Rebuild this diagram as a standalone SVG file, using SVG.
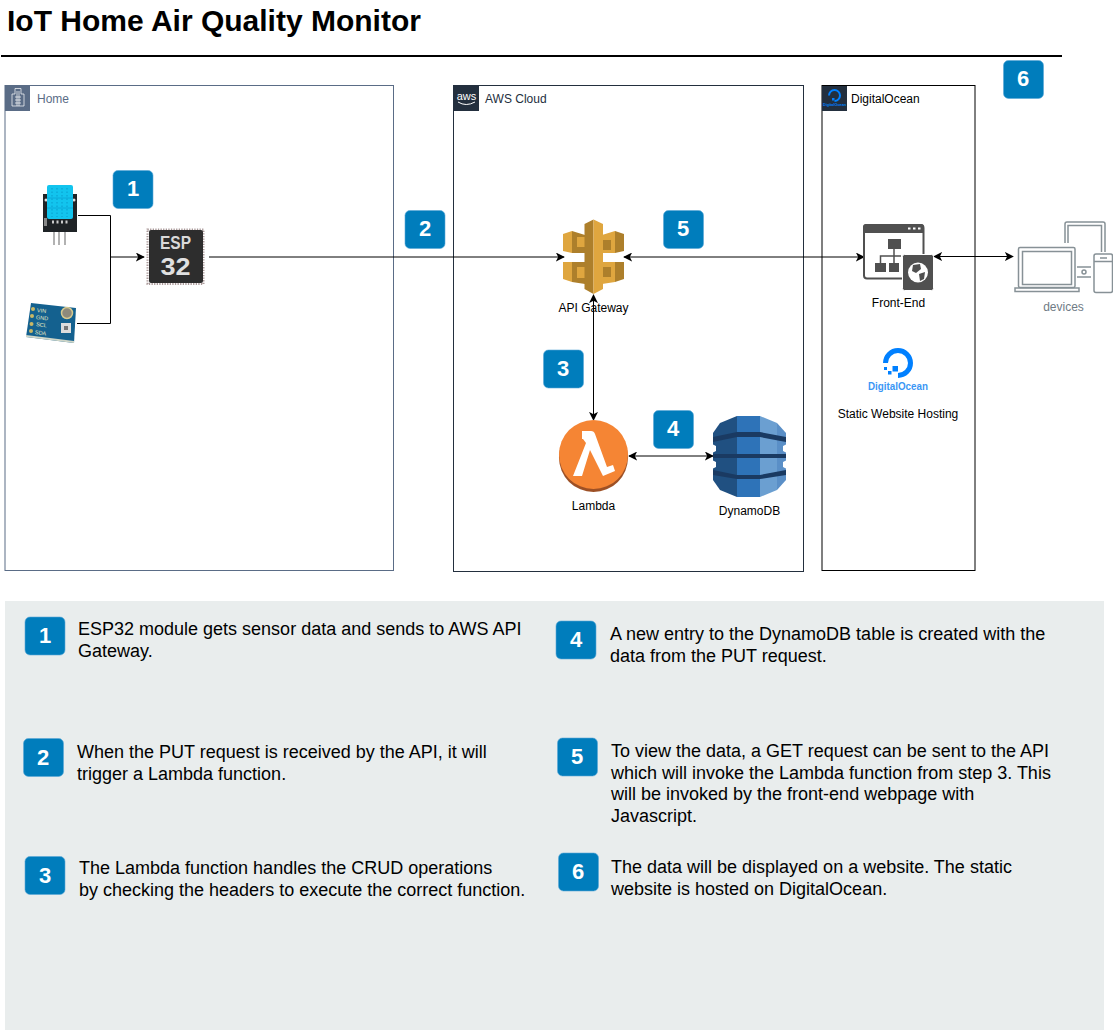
<svg xmlns="http://www.w3.org/2000/svg" width="1113" height="1030" viewBox="0 0 1113 1030">
<style>
text{font-family:"Liberation Sans",Arial,sans-serif}
.lb{font-size:12px;fill:#000;text-anchor:middle}
.gl{font-size:12px}
.d{font-size:18px;fill:#000}
.bn{font-size:22px;font-weight:bold;fill:#fff;text-anchor:middle}
.bg{fill:#007dbc;stroke:#5aa7d6;stroke-width:.6}
.c{fill:none;stroke:#000;stroke-width:1}
.dv{fill:none;stroke:#879196;stroke-width:1.500}
.pin{font-size:5.500px;fill:#e8e8c0}
.pad{fill:#c9b765}
</style>
<defs>
<marker id="a" viewBox="0 0 10 10" refX="9" refY="5" markerWidth="9" markerHeight="9" orient="auto-start-reverse" markerUnits="userSpaceOnUse"><path d="M0 0L10 5L0 10L2.500 5Z" fill="#000"/></marker>
<symbol id="badge" viewBox="0 0 40 38" overflow="visible"><rect class="bg" x="0" y="0" width="40" height="38" rx="5"/></symbol>
</defs>
<rect width="1113" height="1030" fill="#fff"/>
<g id="title">
<text x="7" y="31" font-size="30" font-weight="bold" fill="#000">IoT Home Air Quality Monitor</text>
<path d="M1 56H1062" stroke="#000" stroke-width="2" fill="none"/>
</g>
<g id="group-home">
<rect x="5" y="85.500" width="388.500" height="485" fill="#fff" stroke="#5a6c86"/>
<rect x="5" y="86" width="25" height="25" fill="#5a6c86"/>
<path d="M12 106V94H15V88.500H21V94H24V106ZM15 97H21M15 100H21M15 103H21M17 91V106M19 91V106" fill="none" stroke="#fff" stroke-width=".7"/>
<text class="gl" x="37" y="103" fill="#5a6c86">Home</text>
</g>
<g id="group-aws">
<rect x="453.500" y="85.500" width="350" height="486" fill="#fff" stroke="#232f3e"/>
<rect x="454" y="86" width="25" height="25" fill="#232f3e"/>
<text x="466.500" y="100" font-size="11" fill="#fff" text-anchor="middle">aws</text>
<path d="M458 102Q466 107 475 102" fill="none" stroke="#fff" stroke-width="1"/>
<text class="gl" x="485" y="103" fill="#232f3e">AWS Cloud</text>
</g>
<g id="group-do">
<rect x="822" y="85.500" width="153" height="485" fill="#fff" stroke="#000"/>
<rect x="822" y="86" width="25" height="25" fill="#232f3e"/>
<path d="M834.500 101A5.500 5.500 0 1 0 829 95.500" fill="none" stroke="#0080ff" stroke-width="2"/>
<rect x="832" y="98" width="2.500" height="2.500" fill="#0080ff"/>
<text x="834.500" y="106" font-size="3.800" font-weight="bold" fill="#0080ff" text-anchor="middle">DigitalOcean</text>
<text class="gl" x="851" y="103" fill="#000">DigitalOcean</text>
</g>
<g id="connectors">
<path class="c" d="M78 215.500H110.500V323.500H77"/>
<path class="c" d="M110 257H144" marker-end="url(#a)"/>
<path class="c" d="M209 257H564" marker-end="url(#a)"/>
<path class="c" d="M624 257H864" marker-start="url(#a)" marker-end="url(#a)"/>
<path class="c" d="M934 256.500H1013" marker-start="url(#a)" marker-end="url(#a)"/>
<path class="c" d="M593.500 295V420" marker-start="url(#a)" marker-end="url(#a)"/>
<path class="c" d="M629 456H713" marker-start="url(#a)" marker-end="url(#a)"/>
</g>
<g id="node-dht">
<rect x="43" y="194" width="34" height="38" fill="#1f2326"/>
<circle cx="46" cy="200" r="1.500" fill="#ddd"/><circle cx="74" cy="200" r="1.500" fill="#ddd"/>
<rect x="47" y="185" width="26" height="34" rx="2" fill="#12c4ee"/>
<path d="M52 188V217M57 188V217M62 188V217M67 188V217" stroke="#0ba3d3" stroke-width="1.200" stroke-dasharray="1.500 2"/>
<path d="M47 198H73M47 208H73" stroke="#0ba3d3" stroke-width=".8"/>
<path d="M54 232V245M59 232V245M65 232V245" stroke="#999" stroke-width="1.500"/>
<path d="M52 222H69" stroke="#ccc" stroke-width="3" stroke-dasharray="2 2.500"/>
<rect x="44" y="218" width="3" height="8" fill="#888"/>
</g>
<g id="node-sensor">
<path d="M31 303L76 308L74 343L26 337Z" fill="#14618f"/>
<path d="M26 337L74 343L74 341L26 335Z" fill="#cfd6c8"/>
<circle cx="67" cy="313" r="5.500" fill="#8e8a7c" stroke="#d6c98f" stroke-width="1.500"/>
<rect x="61" y="323" width="10" height="10" fill="#ddd"/>
<rect x="64" y="326" width="4" height="4" fill="#777"/>
<circle class="pad" cx="33" cy="309" r="2"/><circle class="pad" cx="32" cy="316" r="2"/><circle class="pad" cx="31.500" cy="324" r="2"/><circle class="pad" cx="31" cy="331" r="2"/>
<text class="pin" transform="rotate(7 37 310)" x="37" y="312">VIN</text>
<text class="pin" transform="rotate(7 36 317)" x="36" y="319">GND</text>
<text class="pin" transform="rotate(7 36 325)" x="36" y="326">SCL</text>
<text class="pin" transform="rotate(7 35 332)" x="35" y="334">SDA</text>
</g>
<g id="node-esp32">
<rect x="147.500" y="229.500" width="56" height="54.500" fill="none" stroke="#a99" stroke-width="2" stroke-dasharray="1.300 1.300"/>
<rect x="149" y="230" width="54" height="53" rx="2" fill="#2d2d2d"/>
<text x="175.500" y="249" font-size="18" font-weight="bold" fill="#d9d9d9" text-anchor="middle" textLength="31" lengthAdjust="spacingAndGlyphs">ESP</text>
<text x="175.500" y="275" font-size="24" font-weight="bold" fill="#e0e0e0" text-anchor="middle" textLength="30" lengthAdjust="spacingAndGlyphs">32</text>
</g>
<g id="node-apigw">
<path d="M563 234L572 231V253L563 251Z" fill="#dfa63f"/>
<path d="M572 231L585 235V253H572Z" fill="#ad7f2b"/>
<path d="M563 262L572 262V282L563 279Z" fill="#dfa63f"/>
<path d="M572 262H585V284L572 282Z" fill="#ad7f2b"/>
<path d="M624 234L615 231V253L624 251Z" fill="#ad7f2b"/>
<path d="M615 231L602 235V253H615Z" fill="#dfa63f"/>
<path d="M624 262L615 262V282L624 279Z" fill="#ad7f2b"/>
<path d="M615 262H602V284L615 282Z" fill="#dfa63f"/>
<path d="M577 237H585V247H577ZM577 267H585V278H577Z" fill="#dfa63f"/>
<path d="M602 240H611V250H602ZM602 267H611V277H602Z" fill="#ad7f2b"/>
<path d="M593.500 219.500L584.500 224V289L593.500 294Z" fill="#ad7f2b"/>
<path d="M593.500 219.500L603 224V289L593.500 294Z" fill="#dfa63f"/>
<text class="lb" x="593.500" y="312">API Gateway</text>
</g>
<g id="node-lambda">
<circle cx="593.500" cy="457.500" r="34.500" fill="#9d5025"/>
<circle cx="593.500" cy="454.500" r="34.500" fill="#f58534"/>
<path d="M582 431H591Q594 431 595 434L607 467L613 465L615 471L603 476L590 450L582 476H573L586 443L583 439H582Z" fill="#fff"/>
<text class="lb" x="593.500" y="510">Lambda</text>
</g>
<g id="node-dynamo">
<path d="M713 433L720 423L737 416V497L720 490L713 480Z" fill="#205081"/>
<path d="M737 416H760V497H737Z" fill="#2e73b8"/>
<path d="M760 416L777 423V490L760 497Z" fill="#6b9fd1"/>
<path d="M777 423L786 433V480L777 490Z" fill="#5a8fc7"/>
<path d="M713 437L737 432H760L786 437V442L760 437H737L713 442ZM713 454H786V458H713ZM713 470L737 475H760L786 470V475L760 479H737L713 475Z" fill="#1a3a62"/>
<path d="M713 444.500L716 446V451L713 452.500ZM786 444.500L783 446V451L786 452.500ZM713 460.500L716 462V467L713 468.500ZM786 460.500L783 462V467L786 468.500Z" fill="#fff"/>
<text class="lb" x="749.500" y="515">DynamoDB</text>
</g>
<g id="node-frontend">
<rect x="864" y="225" width="59.500" height="53.500" rx="3" fill="#fff" stroke="#505050" stroke-width="2"/>
<path d="M863 227Q863 224 866 224H921Q924 224 924 227V233H863Z" fill="#505050"/>
<path d="M908 228.500H910.500M913 228.500H915.500M918 228.500H920.500" stroke="#fff" stroke-width="2"/>
<rect x="888" y="239" width="13" height="10" fill="#505050"/>
<rect x="875" y="263" width="11" height="9" fill="#505050"/>
<rect x="889" y="263" width="10" height="9" fill="#505050"/>
<path d="M894 249V263M880.500 263V256H901" fill="none" stroke="#505050" stroke-width="1.500"/>
<rect x="902.500" y="254.500" width="31" height="36" rx="2" fill="#505050" stroke="#fff" stroke-width="1"/>
<circle cx="918" cy="272.500" r="10" fill="#fff"/>
<path d="M913 265L920 264L921 269L916 273L912 271ZM919 274L925 272L924 279L920 281Z" fill="#505050"/>
<text class="lb" x="898.500" y="307">Front-End</text>
</g>
<g id="node-website">
<path d="M898 375.500A12.500 12.500 0 1 0 885.500 363" fill="none" stroke="#0080ff" stroke-width="5"/>
<path d="M892.500 366H898V371.500H892.500ZM888 371H891.500V374.500H888ZM884 367H887V370H884Z" fill="#0080ff"/>
<text x="898" y="390" font-size="10" font-weight="bold" fill="#3b97f5" text-anchor="middle" textLength="60" lengthAdjust="spacingAndGlyphs">DigitalOcean</text>
<text class="lb" x="898" y="418">Static Website Hosting</text>
</g>
<g id="node-devices">
<path class="dv" d="M1065 243V224Q1065 222 1067 222H1103Q1105 222 1105 224V252M1068 243V225.500H1101.500V252"/>
<rect class="dv" x="1018.500" y="247.500" width="56.500" height="40" rx="1.500"/>
<rect class="dv" x="1022.500" y="251.500" width="49" height="33"/>
<path class="dv" d="M1015 288H1079V291.500H1015Z"/>
<path class="dv" d="M1077 267H1091M1077 277H1091"/>
<circle class="dv" cx="1084" cy="272" r="2"/>
<rect class="dv" x="1094" y="254" width="18.500" height="38.500" rx="2"/>
<path class="dv" d="M1094 261.500H1112.500M1100 258H1107"/>
<text class="lb" x="1063.500" y="311" style="fill:#6f7b85">devices</text>
</g>
<g id="panel">
<rect x="5" y="601" width="1099" height="429" fill="#e9eded"/>
</g>
<g id="badge-d1"><use href="#badge" x="113" y="170.500" width="40" height="38"/><text class="bn" x="133" y="196">1</text></g>
<g id="badge-d2"><use href="#badge" x="405" y="210.500" width="40" height="38"/><text class="bn" x="425" y="236">2</text></g>
<g id="badge-d3"><use href="#badge" x="543.500" y="350" width="40" height="38"/><text class="bn" x="563" y="376">3</text></g>
<g id="badge-d4"><use href="#badge" x="653.500" y="410.500" width="40" height="38"/><text class="bn" x="673" y="436">4</text></g>
<g id="badge-d5"><use href="#badge" x="663.500" y="210.500" width="40" height="38"/><text class="bn" x="683" y="236">5</text></g>
<g id="badge-d6"><use href="#badge" x="1003.500" y="60.500" width="40" height="38"/><text class="bn" x="1023" y="86">6</text></g>
<g id="legend-1"><use href="#badge" x="25" y="617" width="40" height="38"/><text class="bn" x="45" y="643">1</text>
<text class="d" x="78" y="635">ESP32 module gets sensor data and sends to AWS API</text><text class="d" x="78" y="657">Gateway.</text></g>
<g id="legend-2"><use href="#badge" x="23.500" y="738.500" width="40" height="38"/><text class="bn" x="43" y="764.500">2</text>
<text class="d" x="77" y="758">When the PUT request is received by the API, it will</text><text class="d" x="77" y="780">trigger a Lambda function.</text></g>
<g id="legend-3"><use href="#badge" x="25" y="856.500" width="40" height="38"/><text class="bn" x="45" y="882.500">3</text>
<text class="d" x="79" y="874">The Lambda function handles the CRUD operations</text><text class="d" x="79" y="896">by checking the headers to execute the correct function.</text></g>
<g id="legend-4"><use href="#badge" x="556" y="621" width="40" height="38"/><text class="bn" x="576" y="647">4</text>
<text class="d" x="610" y="640">A new entry to the DynamoDB table is created with the</text><text class="d" x="610" y="662">data from the PUT request.</text></g>
<g id="legend-5"><use href="#badge" x="557.500" y="738" width="40" height="38"/><text class="bn" x="577" y="764">5</text>
<text class="d" x="611" y="757">To view the data, a GET request can be sent to the API</text><text class="d" x="611" y="779">which will invoke the Lambda function from step 3. This</text><text class="d" x="611" y="800">will be invoked by the front-end webpage with</text><text class="d" x="611" y="822">Javascript.</text></g>
<g id="legend-6"><use href="#badge" x="558.500" y="853" width="40" height="38"/><text class="bn" x="578" y="879">6</text>
<text class="d" x="611" y="873">The data will be displayed on a website. The static</text><text class="d" x="611" y="895">website is hosted on DigitalOcean.</text></g>
</svg>
